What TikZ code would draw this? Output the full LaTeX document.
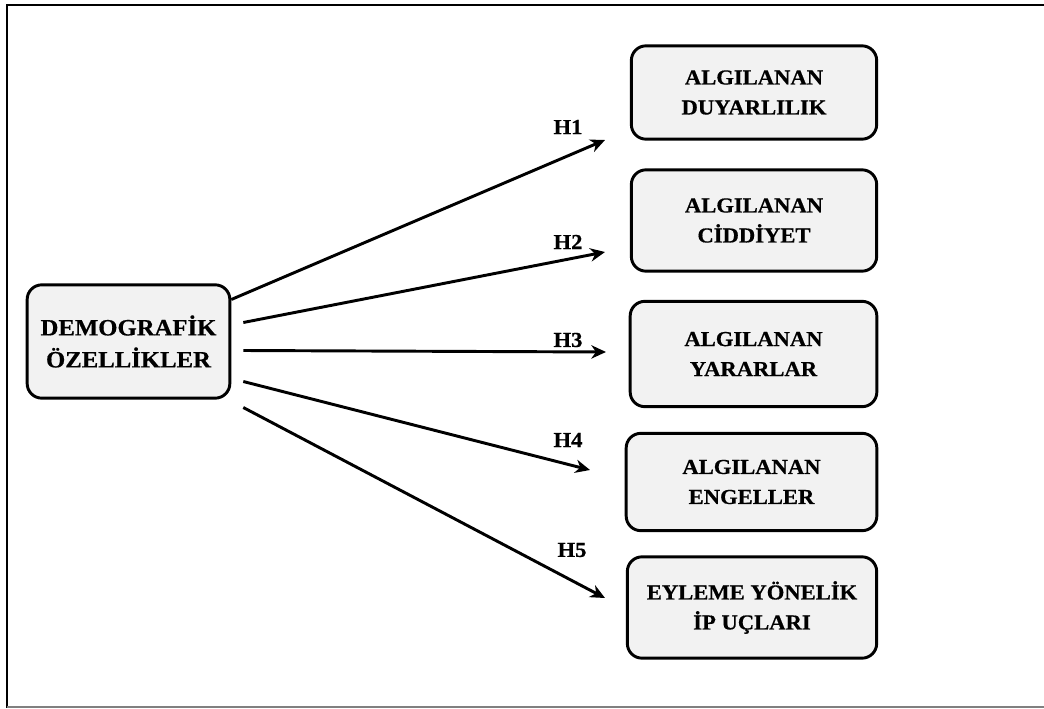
\documentclass[tikz,border=0pt]{standalone}
\usepackage{fontspec}
\setmainfont{Liberation Serif}[FakeStretch=1.06,FakeBold=0.6]
\usetikzlibrary{arrows.meta}
\definecolor{boxgray}{HTML}{F2F2F2}
\begin{document}
\begin{tikzpicture}[x=0.75pt,y=-0.75pt,
  every node/.style = {font=\bfseries\fontsize{16}{22.5}\selectfont,
     align=center},
  box/.style = {shape=rectangle, rounded corners=11pt, draw,
     line width=2.2pt, fill=boxgray, inner sep=0pt},
  hyp/.style = {-{Stealth[length=11pt,width=10pt,inset=3.5pt]},
     line width=2.2pt}]
\useasboundingbox (0,0) rectangle (1044,709);
% frame
\draw[line width=2.2pt] (1050,5) -- (7,5) -- (7,708);
\draw[gray, line width=1pt] (7,707) -- (1050,707);
% boxes
\node [box, minimum width=152pt, minimum height=85pt,
  font=\bfseries\fontsize{17.5}{24}\selectfont] (demo) at (128.5,341.5)
  {DEMOGRAF\.{I}K\\\"OZELL\.{I}KLER};
\node [box, minimum width=184pt, minimum height=70pt] (duy) at (754,92.5)
  {ALGILANAN\\DUYARLILIK};
\node [box, minimum width=184pt, minimum height=76pt] (cid) at (754,220.5)
  {ALGILANAN\\C\.{I}DD\.{I}YET};
\node [box, minimum width=185pt, minimum height=79pt] (yar) at (753.5,354)
  {ALGILANAN\\YARARLAR};
\node [box, minimum width=188pt, minimum height=73pt] (eng) at (751.5,482)
  {ALGILANAN\\ENGELLER};
\node [box, minimum width=187pt, minimum height=76pt] (eyl) at (752,607.5)
  {EYLEME Y\"ONEL\.{I}K\\\.{I}P U\c{C}LARI};
% arrow tips
\coordinate (t1) at (605,140);
\coordinate (t2) at (605,252);
\coordinate (t3) at (606,352);
\coordinate (t4) at (590,470);
\coordinate (t5) at (605,598);
% hypotheses
\draw [hyp] ([shift={(0,-42)}]demo.east) -- (t1);
\draw [hyp] ([shift={(12,-19)}]demo.east) -- (t2);
\draw [hyp] ([shift={(12,9)}]demo.east) -- (t3);
\draw [hyp] ([shift={(12,40)}]demo.east) -- (t4);
\draw [hyp] ([shift={(12,66)}]demo.east) -- (t5);
\node (h1) at (568,127) {H1};
\node (h2) at (568,242) {H2};
\node (h3) at (568,340) {H3};
\node (h4) at (568,440) {H4};
\node (h5) at (572,550) {H5};
\end{tikzpicture}
\end{document}
